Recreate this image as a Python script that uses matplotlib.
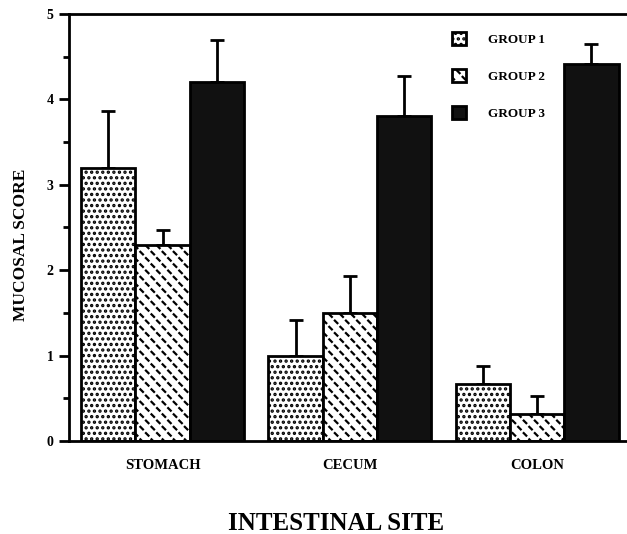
import warnings
import numpy as np
import matplotlib
matplotlib.use("Agg")
from matplotlib import pyplot as plt
import matplotlib.hatch as mhatch
from matplotlib.path import Path

warnings.filterwarnings("ignore")

sites = ['STOMACH', 'CECUM', 'COLON']
groups = ['GROUP 1', 'GROUP 2', 'GROUP 3']
group_1 = [3.2, 1.0, 0.67]
group_1_err = [0.66, 0.42, 0.21]
group_2 = [2.3, 1.5, 0.32]
group_2_err = [0.17, 0.43, 0.21]
group_3 = [4.2, 3.8, 4.41]
group_3_err = [0.49, 0.47, 0.24]


class DashHatch(mhatch.HatchPatternBase):
    # short "\" dashes in staggered rows, used for group 2
    def __init__(self, hatch, density):
        k = hatch.count('d')
        self.cols = 9 * k
        self.rows = 16 * k
        self.num_vertices = 2 * self.cols * self.rows if k else 0

    def set_vertices_and_codes(self, vertices, codes):
        dx = 1.0 / self.cols
        dy = 1.0 / self.rows
        L = 0.115 * dx
        k = 0
        for j in range(self.rows):
            for i in range(self.cols):
                cx = (i + 0.25 + 0.5 * (j % 2)) * dx
                cy = (j + 0.5) * dy
                vertices[k] = (cx - L, cy + L)
                vertices[k + 1] = (cx + L, cy - L)
                codes[k] = Path.MOVETO
                codes[k + 1] = Path.LINETO
                k += 2


mhatch._hatch_types.append(DashHatch)

plt.rcParams['font.family'] = 'Liberation Serif'
plt.rcParams['font.weight'] = 'bold'
plt.rcParams['axes.labelweight'] = 'bold'
plt.rcParams['hatch.linewidth'] = 1.6

fig = plt.figure(figsize=(6.27, 5.34), dpi=100)
ax = fig.add_axes([0.110, 0.174, 0.89, 0.800])

x = np.arange(len(sites))
w = 0.29
series = [(group_1, group_1_err, 'white', '...'),
          (group_2, group_2_err, 'white', 'd'),
          (group_3, group_3_err, '#111111', None)]

for n, (vals, errs, color, hatch) in enumerate(series):
    pos = x + (n - 1) * w
    ax.bar(pos, vals, w, color=color, edgecolor='black', linewidth=2,
           hatch=hatch, label=groups[n], zorder=2)
    ax.errorbar(pos, vals, yerr=[np.zeros(len(errs)), errs], fmt='none',
                ecolor='black', elinewidth=2, capsize=5, capthick=2, zorder=1)

ax.set_xlim(-0.5, 2.48)
ax.set_ylim(0, 5)
ax.set_yticks([0, 1, 2, 3, 4, 5])
ax.set_yticks(np.arange(0.5, 5, 1), minor=True)
ax.tick_params(axis='y', direction='out', length=7, width=2, labelsize=10, pad=4)
ax.tick_params(axis='y', which='minor', direction='out', length=4, width=2)
ax.set_xticks(x)
ax.set_xticklabels(sites, fontsize=10.5)
ax.tick_params(axis='x', length=0, pad=13)
ax.spines['right'].set_visible(False)
for s in ['left', 'bottom', 'top']:
    ax.spines[s].set_linewidth(2)

ax.set_ylabel('MUCOSAL SCORE', fontsize=12.5)
ax.yaxis.set_label_coords(-0.072, 0.46)
ax.set_xlabel('INTESTINAL SITE', fontsize=18)
ax.xaxis.set_label_coords(0.478, -0.165)

leg = ax.legend(loc='upper left', bbox_to_anchor=(0.665, 0.985), frameon=False,
                fontsize=9.5, handlelength=1.1, handleheight=1.15,
                labelspacing=1.75, handletextpad=1.6)

plt.savefig("out.png", dpi=100)
